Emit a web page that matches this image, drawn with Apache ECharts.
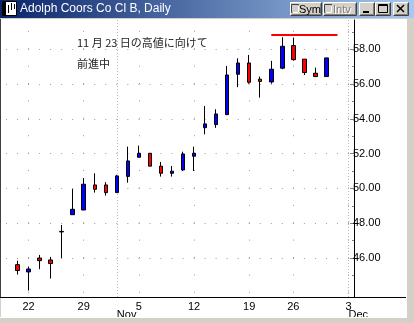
<!DOCTYPE html>
<html><head><meta charset="utf-8">
<script src="https://cdn.jsdelivr.net/npm/echarts@6/dist/echarts.min.js"></script>
<style>html,body{margin:0;padding:0;background:#d4d0c8;overflow:hidden}#c{width:414px;height:323px}</style>
</head><body><div id="c"></div>
<script>
// ---- data ----
const slots = ['Oct 18','Oct 19','Oct 22','Oct 23','Oct 24','Oct 25','Oct 26','Oct 29','Oct 30','Oct 31',
  'Nov 1','Nov 2','Nov 5','Nov 6','Nov 7','Nov 8','Nov 9','Nov 12','Nov 13','Nov 14','Nov 15','Nov 16',
  'Nov 19','Nov 20','Nov 21','Nov 23','Nov 26','Nov 27','Nov 28','Nov 29','Nov 30','Dec 3'];
const tradeDates = ['Oct 19','Oct 22','Oct 23','Oct 24','Oct 25','Oct 26','Oct 29','Oct 30','Oct 31',
  'Nov 1','Nov 2','Nov 5','Nov 6','Nov 7','Nov 8','Nov 9','Nov 12','Nov 13','Nov 14','Nov 15','Nov 16',
  'Nov 19','Nov 20','Nov 21','Nov 23','Nov 26','Nov 27','Nov 28','Nov 29'];
const opens  = [45.62,45.20,46.00,45.89,47.53,48.49,48.76,50.20,50.20,49.76,50.69,51.79,52.02,51.28,50.87,51.06,51.85,53.49,53.67,54.24,56.56,57.21,56.28,56.12,56.91,58.21,57.43,56.62,56.43];
const closes = [45.28,45.37,45.85,45.68,47.50,48.80,50.24,49.95,49.76,50.72,51.58,52.02,51.28,50.87,50.99,51.98,52.02,53.71,54.28,56.52,57.21,56.10,56.15,56.85,58.17,57.40,56.66,56.43,57.50];
const lows   = [45.05,44.13,45.36,44.82,46.00,48.49,48.76,49.76,49.59,49.76,50.33,51.79,51.28,50.68,50.68,51.00,51.00,53.11,53.48,54.24,55.82,56.02,55.22,56.02,56.85,57.34,56.52,56.43,56.43];
const highs  = [45.85,45.51,46.18,46.06,47.90,49.97,50.60,50.87,50.36,50.78,52.40,52.46,52.02,51.52,51.29,52.11,52.40,54.74,54.55,57.04,57.48,57.67,56.43,57.33,58.69,58.67,57.43,56.94,57.50];
const weekStarts = ['Oct 22','Oct 29','Nov 5','Nov 12','Nov 19','Nov 26','Dec 3'];
const weekLabels = ['22','29','5','12','19','26','3'];
const monthStarts = ['Nov 1','Dec 3'];
const monthLabels = ['Nov','Dec'];
const yMajor = [46,48,50,52,54,56,58];
const yMinor = [45,47,49,51,53,55,57,59];
const yDots = [44,45,46,47,48,49,50,51,52,53,54,55,56,57,58,59];
const yMin = 43.76, yMax = 59.68;
const resistance = 58.83, resFrom = 'Nov 21', resTo = 'Nov 30';
const title = 'Adolph Coors Co Cl B, Daily';
const note1 = '11 月 23 日の高値に向けて';
const note2 = '前進中';

// ---- build ----
const candleData = tradeDates.map((d,i)=>[d, opens[i], closes[i], lows[i], highs[i]]);
const gridL = 1, gridT = 20, gridW = 353, gridH = 277;
const band = gridW / slots.length;

const gridLines = [];
yMajor.forEach(v => gridLines.push({yAxis: v, lineStyle:{color:'#9a9a9a', width:1, type:[1, band-1], dashOffset: band/2 + 0.5}}));
weekStarts.forEach(d => gridLines.push([{coord:[d, yDots[0]], lineStyle:{color:'#9a9a9a', width:1, type:[1, gridH/(yMax-yMin)-1]}}, {coord:[d, yMax]}]));
monthStarts.forEach(d => gridLines.push([{coord:[d, yMin], lineStyle:{color:'#b8b8b8', width:1, type:[1,2]}}, {coord:[d, yMax]}]));
const resLine = [[{coord:[resFrom, resistance], lineStyle:{color:'#ff0000', width:2, type:'solid'}}, {coord:[resTo, resistance]}]];

const F = '"Liberation Sans", Arial, sans-serif';
function btn(x,w){ return [
  {type:'rect', shape:{x:x, y:2, width:w, height:14}, style:{fill:'#d4d0c8'}, z:20},
  {type:'polyline', shape:{points:[[x+0.5,15.5],[x+0.5,2.5],[x+w-0.5,2.5]]}, style:{stroke:'#ffffff', fill:null, lineWidth:1}, z:21},
  {type:'polyline', shape:{points:[[x+0.5,15.5],[x+w-0.5,15.5],[x+w-0.5,2.5]]}, style:{stroke:'#404040', fill:null, lineWidth:1}, z:21},
  {type:'polyline', shape:{points:[[x+1.5,14.5],[x+w-1.5,14.5],[x+w-1.5,3.5]]}, style:{stroke:'#808080', fill:null, lineWidth:1}, z:21}
];}
const chk = x => [
  {type:'rect', shape:{x:x+0.5, y:4.5, width:7, height:8}, style:{fill:'#d4d0c8', stroke:'#404040', lineWidth:1}, z:22},
  {type:'polyline', shape:{points:[[x+1.5,12.5],[x+7.5,12.5],[x+7.5,5.5]]}, style:{stroke:'#ffffff', fill:null, lineWidth:1}, z:22}
];
const graphics = [
  {type:'rect', shape:{x:1, y:19, width:406, height:298}, style:{fill:'#ffffff'}, z:-5},
  {type:'line', shape:{x1:0.5, y1:19, x2:0.5, y2:297}, style:{stroke:'#404040', lineWidth:1}, z:5},
  {type:'line', shape:{x1:0, y1:297.5, x2:406, y2:297.5}, style:{stroke:'#000', lineWidth:1}, z:5},
  {type:'line', shape:{x1:0, y1:317.5, x2:407, y2:317.5}, style:{stroke:'#ffffff', lineWidth:1}, z:5},
  {type:'rect', shape:{x:0, y:0, width:414, height:18}, style:{fill:{type:'linear', x:0, y:0, x2:1, y2:0, colorStops:[{offset:0,color:'#0a246a'},{offset:1,color:'#a6caf0'}]}}, z:10},
  {type:'rect', shape:{x:2.5, y:1.5, width:14, height:14}, style:{fill:'#ffffff', stroke:'#000', lineWidth:1}, z:11},
  {type:'rect', shape:{x:3, y:2, width:3, height:13}, style:{fill:'#000'}, z:12},
  {type:'line', shape:{x1:8.5, y1:5, x2:8.5, y2:13}, style:{stroke:'#000', lineWidth:1}, z:12},
  {type:'line', shape:{x1:11.5, y1:3, x2:11.5, y2:10}, style:{stroke:'#000', lineWidth:1}, z:12},
  {type:'line', shape:{x1:14.5, y1:4, x2:14.5, y2:9}, style:{stroke:'#000', lineWidth:1}, z:12},
  {type:'text', x:20, y:9, style:{text:title, fill:'#ffffff', font:'12px '+F, verticalAlign:'middle'}, z:12},
  ...btn(290,32), ...chk(291),
  {type:'text', x:299, y:9.5, style:{text:'Sym', fill:'#000', font:'11px '+F, verticalAlign:'middle'}, z:23},
  ...btn(323,34), ...chk(324),
  {type:'text', x:334, y:10.5, style:{text:'Intv', fill:'#ffffff', font:'11px '+F, verticalAlign:'middle'}, z:23},
  {type:'text', x:333, y:9.5, style:{text:'Intv', fill:'#808080', font:'11px '+F, verticalAlign:'middle'}, z:24},
  ...btn(359,16),
  {type:'rect', shape:{x:363, y:11, width:6, height:2}, style:{fill:'#000'}, z:23},
  ...btn(375,16),
  {type:'rect', shape:{x:378.5, y:4.5, width:9, height:8}, style:{fill:null, stroke:'#000', lineWidth:1}, z:23},
  {type:'line', shape:{x1:378, y1:5.5, x2:388, y2:5.5}, style:{stroke:'#000', lineWidth:1}, z:23},
  ...btn(393,16),
  {type:'line', shape:{x1:397, y1:5, x2:404, y2:12}, style:{stroke:'#000', lineWidth:1.5}, z:23},
  {type:'line', shape:{x1:404, y1:5, x2:397, y2:12}, style:{stroke:'#000', lineWidth:1.5}, z:23},
  {type:'text', x:77, y:43, style:{text:note1, fill:'#222', font:'11px "Noto Sans CJK JP"', verticalAlign:'middle'}, z:6},
  {type:'text', x:77, y:64, style:{text:note2, fill:'#222', font:'11px "Noto Sans CJK JP"', verticalAlign:'middle'}, z:6}
];

const chart = echarts.init(document.getElementById('c'), null, {renderer:'canvas'});
chart.setOption({
  animation:false,
  backgroundColor:'#d4d0c8',
  grid:{left:gridL, top:gridT, width:gridW, height:gridH, containLabel:false},
  xAxis:[
    {type:'category', data:slots, boundaryGap:true,
     axisLine:{show:false}, axisTick:{show:false}, splitLine:{show:false},
     axisLabel:{interval:(i,v)=>weekStarts.includes(v), formatter:v=>weekLabels[weekStarts.indexOf(v)], color:'#000', fontSize:11, fontFamily:F, margin:4}},
    {type:'category', data:slots, boundaryGap:true, position:'bottom',
     axisLine:{show:false}, axisTick:{show:false}, splitLine:{show:false},
     axisLabel:{interval:(i,v)=>monthStarts.includes(v), formatter:v=>monthLabels[monthStarts.indexOf(v)], color:'#000', fontSize:11, fontFamily:F, margin:12, align:'left'}}
  ],
  yAxis:[
    {type:'value', position:'right', min:yMin, max:yMax,
     axisLine:{show:true, lineStyle:{color:'#000', width:1}},
     axisTick:{show:true, inside:true, length:4, lineStyle:{color:'#808080'}, customValues:yMajor},
     axisLabel:{show:true, customValues:yMajor, formatter:v=>v.toFixed(2), color:'#000', fontSize:11, fontFamily:F, margin:-1},
     splitLine:{show:false}},
    {type:'value', position:'right', min:yMin, max:yMax,
     axisLine:{show:false},
     axisTick:{show:true, inside:true, length:2, lineStyle:{color:'#808080'}, customValues:yMinor},
     axisLabel:{show:false}, splitLine:{show:false}}
  ],
  series:[
    {type:'line', name:'grid', xAxisIndex:0, yAxisIndex:0, data:[], z:1, silent:true,
     markLine:{z:1, silent:true, symbol:['none','none'], label:{show:false}, animation:false, data:gridLines}},
    {type:'candlestick', xAxisIndex:0, yAxisIndex:0, z:3,
     data:candleData, encode:{x:0, y:[1,2,3,4]},
     barWidth:4,
     itemStyle:{color:'#0000ff', color0:'#ff0000', borderColor:'#000', borderColor0:'#000', borderColorDoji:'#000', borderWidth:1},
     markLine:{silent:true, symbol:['none','none'], label:{show:false}, animation:false, data:resLine}}
  ],
  graphic:{elements:graphics}
});
</script></body></html>
